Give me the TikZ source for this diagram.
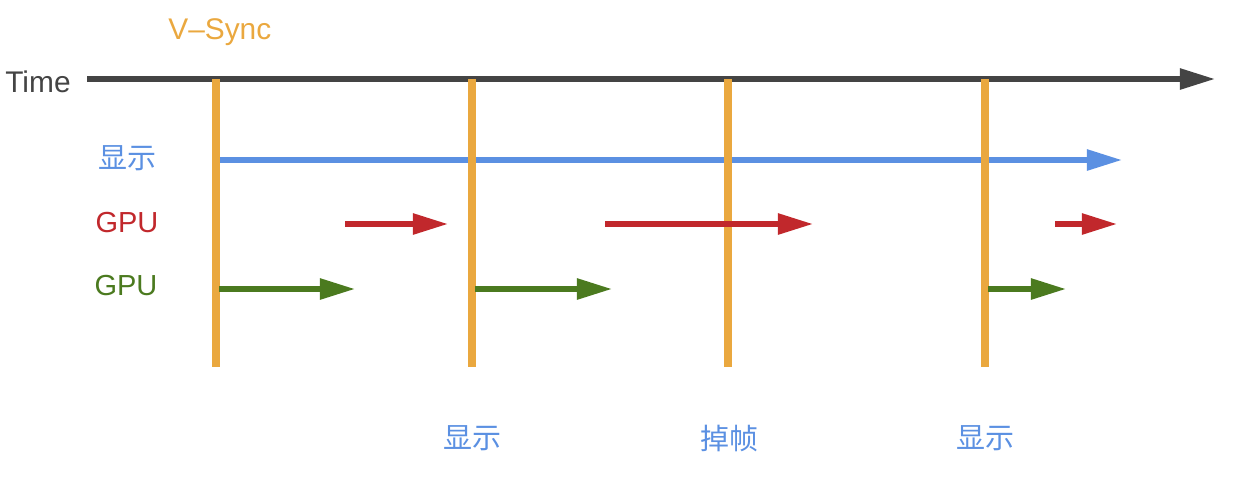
\documentclass[tikz,border=0pt]{standalone}
\usepackage{fontspec}
\setmainfont{Liberation Sans}
\newfontfamily\cjk{Noto Sans CJK SC}
\usetikzlibrary{arrows.meta}
\definecolor{timegray}{HTML}{444444}
\definecolor{vsyncorange}{HTML}{EAA83F}
\definecolor{dispblue}{HTML}{5B90E2}
\definecolor{gpured}{HTML}{C1282C}
\definecolor{gpugreen}{HTML}{4B7A1F}

\begin{document}
\begin{tikzpicture}[
    x=0.02cm, y=-0.02cm,
    lbl/.style={inner sep=0pt, font=\fontsize{16.5}{18}\selectfont},
    cjklbl/.style={inner sep=0pt, text=dispblue, font=\cjk\fontsize{16.5}{18}\selectfont},
    vsync/.style={line width=4pt, vsyncorange},
    tarr/.style={-{Triangle[length=20pt, width=11.5pt]}, line width=3pt},
]
  \useasboundingbox (0,0) rectangle (1234,478);

  %% ---- labels ----
  \node[lbl, text=timegray, anchor=west, font=\fontsize{17}{19}\selectfont] (time) at (5,82) {Time};
  \node[lbl, text=vsyncorange, anchor=base west, font=\fontsize{17}{19}\selectfont] (vs) at (168,39) {V–Sync};
  \node[cjklbl]                               (disp)  at (127,158) {显示};
  \node[lbl, text=gpured]                     (gpu1)  at (127,223) {GPU};
  \node[lbl, text=gpugreen]                   (gpu2)  at (126,286) {GPU};

  \node[cjklbl] (b1) at (472,438) {显示};
  \node[cjklbl] (b2) at (729,438) {掉帧};
  \node[cjklbl] (b3) at (985,438) {显示};

  %% ---- time axis ----
  \coordinate (t0) at (87,79);
  \coordinate (t1) at (1215,79);
  \draw[tarr, timegray] (t0) -- (t1);

  %% ---- display line (under the v-sync bars) ----
  \coordinate (d0) at (219,160);
  \coordinate (d1) at (1122,160);
  \draw[tarr, dispblue] (d0) -- (d1);

  %% ---- v-sync bars ----
  \coordinate (v1t) at (216,79);  \coordinate (v1b) at (216,367);
  \coordinate (v2t) at (472,79);  \coordinate (v2b) at (472,367);
  \coordinate (v3t) at (728,79);  \coordinate (v3b) at (728,367);
  \coordinate (v4t) at (985,79);  \coordinate (v4b) at (985,367);
  \draw[vsync] (v1t) -- (v1b);
  \draw[vsync] (v2t) -- (v2b);
  \draw[vsync] (v3t) -- (v3b);
  \draw[vsync] (v4t) -- (v4b);

  %% ---- red row ----
  \coordinate (r1a) at (345,224);  \coordinate (r1b) at (448,224);
  \coordinate (r2a) at (605,224);  \coordinate (r2b) at (813,224);
  \coordinate (r3a) at (1055,224); \coordinate (r3b) at (1117,224);
  \draw[tarr, gpured] (r1a) -- (r1b);
  \draw[tarr, gpured] (r2a) -- (r2b);
  \draw[tarr, gpured] (r3a) -- (r3b);

  %% ---- green row ----
  \coordinate (g1a) at (219,289);  \coordinate (g1b) at (355,289);
  \coordinate (g2a) at (475,289);  \coordinate (g2b) at (612,289);
  \coordinate (g3a) at (988,289);  \coordinate (g3b) at (1066,289);
  \draw[tarr, gpugreen] (g1a) -- (g1b);
  \draw[tarr, gpugreen] (g2a) -- (g2b);
  \draw[tarr, gpugreen] (g3a) -- (g3b);

\end{tikzpicture}
\end{document}
